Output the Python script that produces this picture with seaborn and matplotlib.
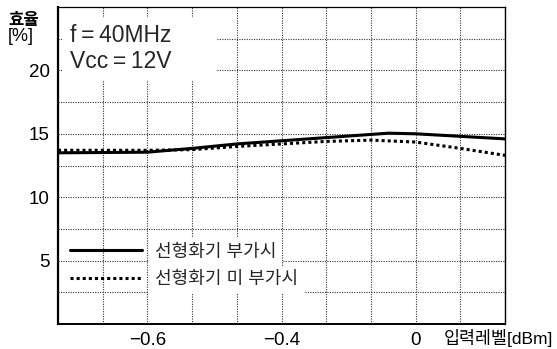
import matplotlib
matplotlib.use("Agg")
import matplotlib.pyplot as plt
import pandas as pd
import seaborn as sns

# Input level, in grid steps (one step per vertical grid line)
level_with = [0, 2, 3, 4, 5, 6, 7, 7.4, 8, 9, 10]
eff_with = [13.5, 13.55, 13.85, 14.2, 14.45, 14.7, 14.95, 15.05, 15.0, 14.8, 14.6]
level_without = [0, 2, 3, 4, 5, 6, 7, 8, 9, 10]
eff_without = [13.7, 13.7, 13.75, 14.0, 14.2, 14.4, 14.5, 14.35, 13.85, 13.3]

series_names = ["선형화기 부가시", "선형화기 미 부가시"]
x_tick_pos = [2, 5, 8]
x_tick_labels = ["\u22120.6", "\u22120.4", "0"]
y_tick_vals = [5, 10, 15, 20]
x_grid = list(range(0, 11))
y_grid = [2.5, 7.5, 12.5, 17.5, 22.5]

sns.set_theme(style="white")
plt.rcParams["font.family"] = ["Liberation Sans", "Noto Sans CJK KR", "DejaVu Sans"]

fig = plt.figure(figsize=(5.57, 3.49), dpi=100)
ax = fig.add_axes([58 / 557, 25 / 349, 447 / 557, 317 / 349])

df_with = pd.DataFrame({"level": level_with, "eff": eff_with})
df_without = pd.DataFrame({"level": level_without, "eff": eff_without})

sns.lineplot(data=df_with, x="level", y="eff", ax=ax, color="black",
             linewidth=2.2, label=series_names[0], zorder=4)
sns.lineplot(data=df_without, x="level", y="eff", ax=ax, color="black",
             linewidth=2.2, linestyle=(0, (1, 1)), label=series_names[1], zorder=4)

ax.set_xlim(0, 10)
ax.set_ylim(0, 25)
ax.set_xticks(x_tick_pos)
ax.set_xticklabels(x_tick_labels)
ax.set_xticks(x_grid, minor=True)
ax.set_yticks(y_tick_vals)
ax.set_yticklabels([str(v) for v in y_tick_vals])
ax.set_yticks(y_grid, minor=True)
ax.tick_params(axis="both", which="both", length=0, labelsize=13.5, colors="black")
ax.tick_params(axis="y", pad=6)
ax.tick_params(axis="x", pad=6)
ax.set_xlabel("")
ax.set_ylabel("")

ax.grid(True, which="both", color="#333333", linewidth=0.8,
        linestyle=(0, (1, 1.2)), zorder=1)
ax.set_axisbelow(True)

for side, lw in (("left", 1.6), ("bottom", 1.4), ("top", 0.9), ("right", 1.0)):
    ax.spines[side].set_color("black")
    ax.spines[side].set_linewidth(lw)
    ax.spines[side].set_visible(True)

# condition note, on a white panel that breaks the grid behind it
ax.text(0.027, 0.945, "f\u2009=\u200940MHz      \nVcc\u2009=\u200912V      ",
        transform=ax.transAxes, ha="left", va="top", fontsize=16.5,
        linespacing=1.15, zorder=5,
        bbox=dict(boxstyle="square,pad=0.3", facecolor="white", edgecolor="none"))

leg = ax.legend(loc="center left", bbox_to_anchor=(0.027, 0.183), frameon=False,
                fontsize=13, handlelength=4.0, handletextpad=0.7,
                labelspacing=0.6, borderpad=0, borderaxespad=0)
for t in leg.get_texts():
    t.set_bbox(dict(facecolor="white", edgecolor="none", pad=4))
leg.set_zorder(5)

fig.text(0.042, 0.942, "효율", ha="center", va="center", fontsize=12,
         fontweight="bold", color="black")
fig.text(0.038, 0.895, "[%]", ha="center", va="center", fontsize=13, color="black")
fig.text(0.993, 1 - 338 / 349, "입력레벨[dBm]", ha="right", va="center",
         fontsize=12.5, color="black")

fig.savefig("out.png", dpi=100, facecolor="white")
